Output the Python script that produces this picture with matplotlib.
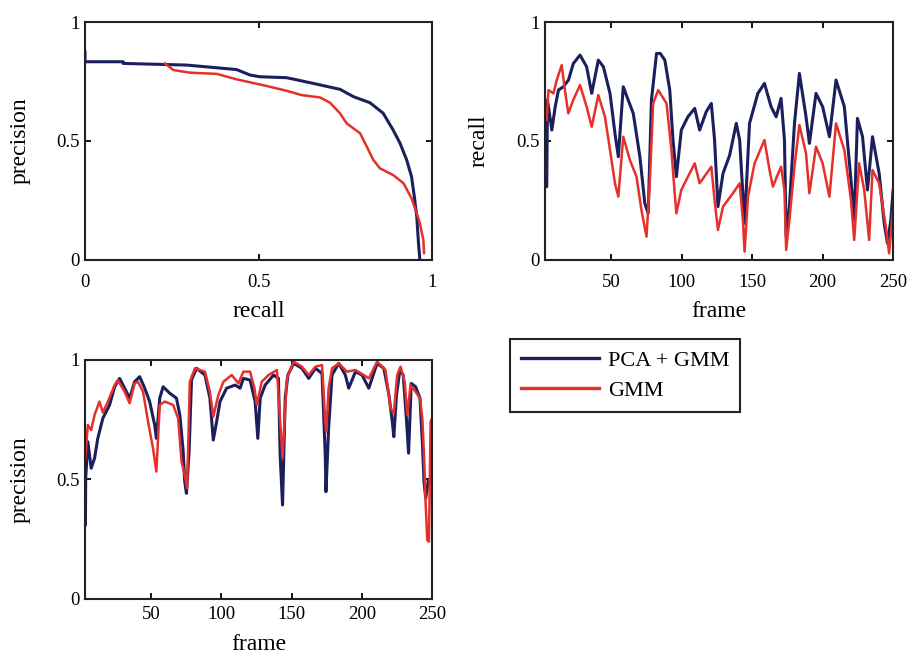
import matplotlib
matplotlib.use("Agg")
import matplotlib.pyplot as plt
from matplotlib.ticker import FuncFormatter

plt.rcParams['font.family'] = ['Liberation Serif', 'DejaVu Serif']

BLUE = '#1b1f5e'
RED = '#e5302b'

# ---- Precision-recall curve (top-left) ----
pr_recall_pca = [0, 0, 0.11, 0.11, 0.293, 0.37, 0.437, 0.476, 0.504, 0.581, 0.658, 0.735,
                 0.774, 0.821, 0.859, 0.888, 0.908, 0.927, 0.941, 0.949, 0.956, 0.961, 0.965]
pr_prec_pca = [0.875, 0.833, 0.833, 0.826, 0.819, 0.809, 0.80, 0.777, 0.770, 0.766, 0.742, 0.717,
               0.686, 0.661, 0.617, 0.546, 0.49, 0.42, 0.35, 0.266, 0.182, 0.07, 0.0]
pr_recall_gmm = [0.23, 0.255, 0.303, 0.38, 0.437, 0.524, 0.581, 0.624, 0.677, 0.706, 0.735, 0.754,
                 0.793, 0.812, 0.831, 0.85, 0.888, 0.918, 0.941, 0.956, 0.965, 0.975, 0.977]
pr_prec_gmm = [0.826, 0.798, 0.787, 0.782, 0.759, 0.731, 0.711, 0.693, 0.683, 0.661, 0.616, 0.574,
               0.532, 0.476, 0.42, 0.385, 0.357, 0.322, 0.259, 0.196, 0.154, 0.084, 0.029]

# ---- Recall per frame (top-right) ----
rec_frames_pca = [3.3, 4.2, 4.7, 7.8, 10.2, 12.5, 16, 19.6, 23.1, 27.8, 32.5, 36.1, 40.8, 44.4, 49.1,
                  52.6, 55, 58.5, 62, 65.6, 70.3, 73.8, 76.2, 78.5, 82.1, 84.7, 88, 91.5, 93.8, 96.2,
                  99.7, 104.4, 109.2, 112.7, 117.4, 121, 123.3, 125.7, 129.3, 134, 138.7, 141.1,
                  144.6, 148.1, 154, 158.7, 163.4, 167, 170.5, 172.9, 174.1, 176.4, 180, 183.5,
                  188.2, 190.6, 195.3, 200, 204.8, 209.5, 215.4, 220.1, 222.4, 224.7, 228.3, 231.8,
                  235.4, 240.1, 243.7, 246, 248.4, 250]
rec_pca = [0.308, 0.308, 0.672, 0.546, 0.644, 0.714, 0.728, 0.756, 0.826, 0.861, 0.812, 0.70, 0.84,
           0.812, 0.70, 0.532, 0.434, 0.728, 0.672, 0.616, 0.434, 0.238, 0.196, 0.672, 0.868, 0.868,
           0.84, 0.714, 0.504, 0.35, 0.546, 0.602, 0.637, 0.546, 0.623, 0.658, 0.504, 0.224,
           0.364, 0.44, 0.574, 0.504, 0.154, 0.574, 0.70, 0.742, 0.644, 0.602, 0.679, 0.504,
           0.098, 0.224, 0.574, 0.784, 0.602, 0.49, 0.70, 0.644, 0.518, 0.756, 0.644, 0.336,
           0.168, 0.595, 0.518, 0.294, 0.518, 0.364, 0.154, 0.07, 0.168, 0.294]
rec_frames_gmm = [3.3, 4.2, 5.4, 8.9, 11.3, 14.8, 17.1, 19.5, 23, 27.8, 32.5, 36.1, 40.8, 45.5, 49.1,
                  52.6, 55, 58.5, 63.2, 67.9, 71.4, 75, 77.4, 79.7, 83.3, 89.2, 92.7, 95, 96.2,
                  99.7, 104.4, 109.2, 112.7, 121, 123.3, 125.7, 129.3, 136.3, 141.1, 143.4, 144.6,
                  147, 151.7, 158.7, 162.3, 164.7, 168.2, 170.5, 172.9, 174.1, 176.4, 180, 183.5,
                  188.2, 190.6, 195.3, 200, 204.8, 209.5, 215.4, 220.1, 222.4, 225.9, 229.5, 233,
                  235.4, 240.1, 244.8, 247.2, 249.5, 250]
rec_gmm = [0.588, 0.588, 0.714, 0.70, 0.756, 0.819, 0.714, 0.616, 0.672, 0.735, 0.644, 0.56, 0.693,
           0.602, 0.462, 0.322, 0.266, 0.518, 0.42, 0.35, 0.21, 0.098, 0.336, 0.658, 0.714, 0.658,
           0.462, 0.28, 0.196, 0.294, 0.35, 0.406, 0.322, 0.392, 0.252, 0.126, 0.224, 0.28, 0.322,
           0.168, 0.035, 0.266, 0.406, 0.504, 0.378, 0.308, 0.36, 0.392, 0.294, 0.042, 0.168,
           0.392, 0.567, 0.448, 0.28, 0.476, 0.406, 0.266, 0.574, 0.462, 0.252, 0.084, 0.406,
           0.294, 0.084, 0.378, 0.322, 0.14, 0.028, 0.182, 0.21]

# ---- Precision per frame (bottom-left) ----
prec_frames_pca = [3.3, 3.5, 5, 7.4, 9.8, 12.1, 15.7, 20.5, 24.1, 27.6, 31.2, 34.8, 38.3, 41.9, 45.5,
                   49, 52.6, 53.8, 56.2, 58.6, 63.3, 68.1, 70.5, 72.9, 74, 75.2, 77.1, 78.8, 82.4,
                   88.4, 91.9, 94.3, 96.7, 99.1, 103.8, 109.8, 113.4, 115.7, 120.5, 124.1, 126,
                   127.7, 131.2, 137.2, 140.7, 141.9, 143.6, 145.5, 147.4, 151.5, 157.4, 162.2, 167,
                   171.7, 174, 174.5, 176.4, 178.8, 183.6, 188.3, 190.7, 195.5, 200.2, 205, 210.9,
                   215.7, 219.3, 221.7, 222.8, 224.7, 227.1, 229.5, 231.9, 233.3, 235.2, 238.3,
                   241.4, 243.1, 244.3, 245.5, 247.4, 250]
prec_pca = [0.31, 0.505, 0.658, 0.547, 0.589, 0.672, 0.756, 0.812, 0.888, 0.923, 0.882, 0.84, 0.909,
            0.93, 0.882, 0.826, 0.728, 0.672, 0.84, 0.888, 0.861, 0.84, 0.77, 0.616, 0.49, 0.442,
            0.616, 0.916, 0.965, 0.937, 0.84, 0.665, 0.742, 0.826, 0.882, 0.895, 0.882, 0.923,
            0.916, 0.826, 0.672, 0.84, 0.895, 0.937, 0.923, 0.602, 0.393, 0.84, 0.937, 0.986,
            0.965, 0.923, 0.965, 0.944, 0.602, 0.449, 0.714, 0.937, 0.986, 0.937, 0.882, 0.951,
            0.937, 0.882, 0.986, 0.965, 0.854, 0.742, 0.679, 0.854, 0.958, 0.937, 0.742, 0.61,
            0.902, 0.888, 0.84, 0.658, 0.49, 0.421, 0.498, 0.49]
prec_frames_gmm = [3.3, 5, 7.4, 9.8, 13.3, 15.7, 19.3, 24.1, 26.4, 31.2, 34.8, 38.3, 40.7, 44.3, 47.9,
                   51.4, 53.8, 56.2, 59.8, 65.7, 69.3, 71.7, 74, 75.7, 77.6, 81.2, 88.4, 91.9,
                   94.3, 97.9, 101.5, 107.4, 112.2, 115.7, 120.5, 123.6, 125.3, 128.8, 133.6, 139.6,
                   141.9, 143.6, 146.7, 151.5, 157.4, 162.2, 167, 171.7, 174, 174.7, 176.4, 178.8,
                   183.6, 189.5, 195.5, 201.4, 205, 210.9, 216.9, 220.5, 222.8, 225.2, 227.6, 230.5,
                   232.4, 234.7, 238.3, 241.4, 243.1, 244.3, 245.5, 246.6, 247.8, 249, 250]
prec_gmm = [0.589, 0.728, 0.707, 0.77, 0.826, 0.78, 0.826, 0.895, 0.916, 0.867, 0.819, 0.902, 0.909,
            0.867, 0.742, 0.63, 0.533, 0.812, 0.826, 0.812, 0.756, 0.575, 0.519, 0.463, 0.909,
            0.965, 0.951, 0.867, 0.763, 0.853, 0.909, 0.937, 0.902, 0.951, 0.951, 0.882, 0.812,
            0.909, 0.937, 0.958, 0.742, 0.589, 0.923, 0.993, 0.972, 0.937, 0.972, 0.979, 0.742,
            0.70, 0.882, 0.965, 0.986, 0.951, 0.958, 0.937, 0.923, 0.993, 0.958, 0.798, 0.777,
            0.937, 0.972, 0.909, 0.77, 0.895, 0.867, 0.84, 0.756, 0.602, 0.393, 0.247, 0.24,
            0.742, 0.756]

series_labels = ['PCA + GMM', 'GMM']
frame_ticks = [50, 100, 150, 200, 250]
unit_ticks = [0, 0.5, 1]

TFS = 13.5   # tick labels
LFS = 17     # axis labels
fig = plt.figure(figsize=(9.13, 6.57), dpi=100)
fig.patch.set_facecolor('white')

fmt = FuncFormatter(lambda v, p: '%g' % v)


def style(ax, xpad):
    for s in ax.spines.values():
        s.set_linewidth(1.5)
        s.set_color('#222222')
    ax.tick_params(direction='in', top=True, right=True, length=4, width=1.3,
                   labelsize=TFS)
    ax.tick_params(axis='x', pad=xpad)
    ax.tick_params(axis='y', pad=4)
    ax.yaxis.set_major_formatter(fmt)
    ax.xaxis.set_major_formatter(fmt)


ax1 = fig.add_axes([0.0931, 0.6043, 0.3801, 0.3622])
l1, = ax1.plot(pr_recall_pca, pr_prec_pca, color=BLUE, lw=2.2)
l2, = ax1.plot(pr_recall_gmm, pr_prec_gmm, color=RED, lw=1.8)
ax1.set_xlim(0, 1)
ax1.set_ylim(0, 1)
ax1.set_xticks(unit_ticks)
ax1.set_yticks(unit_ticks)
style(ax1, 10)
ax1.set_xlabel('recall', fontsize=LFS, labelpad=7)
ax1.set_ylabel('precision', fontsize=LFS, labelpad=18)

ax2 = fig.add_axes([0.597, 0.6043, 0.3812, 0.3622])
ax2.plot(rec_frames_pca, rec_pca, color=BLUE, lw=2.2)
ax2.plot(rec_frames_gmm, rec_gmm, color=RED, lw=1.8)
ax2.set_xlim(3, 250)
ax2.set_ylim(0, 1)
ax2.set_xticks(frame_ticks)
ax2.set_yticks(unit_ticks)
style(ax2, 10)
ax2.set_xlabel('frame', fontsize=LFS, labelpad=7)
ax2.set_ylabel('recall', fontsize=LFS, labelpad=19)

ax3 = fig.add_axes([0.0931, 0.0883, 0.3801, 0.3638])
ax3.plot(prec_frames_pca, prec_pca, color=BLUE, lw=2.2)
ax3.plot(prec_frames_gmm, prec_gmm, color=RED, lw=1.8)
ax3.set_xlim(3, 250)
ax3.set_ylim(0, 1)
ax3.set_xticks(frame_ticks)
ax3.set_yticks(unit_ticks)
style(ax3, 5)
ax3.set_xlabel('frame', fontsize=LFS, labelpad=8)
ax3.set_ylabel('precision', fontsize=LFS, labelpad=18)

leg = fig.legend([l1, l2], series_labels, loc='upper left',
                 bbox_to_anchor=(0.5586, 0.484, 0.2519, 0.0), mode='expand',
                 fontsize=16, handlelength=3.5, borderpad=0.5, labelspacing=0.42,
                 handletextpad=0.4, fancybox=False, framealpha=1, borderaxespad=0)
leg.get_frame().set_edgecolor('#222222')
leg.get_frame().set_linewidth(1.5)
for h in leg.get_lines():
    h.set_linewidth(2.4)

fig.savefig('out.png', dpi=100, facecolor='white')
